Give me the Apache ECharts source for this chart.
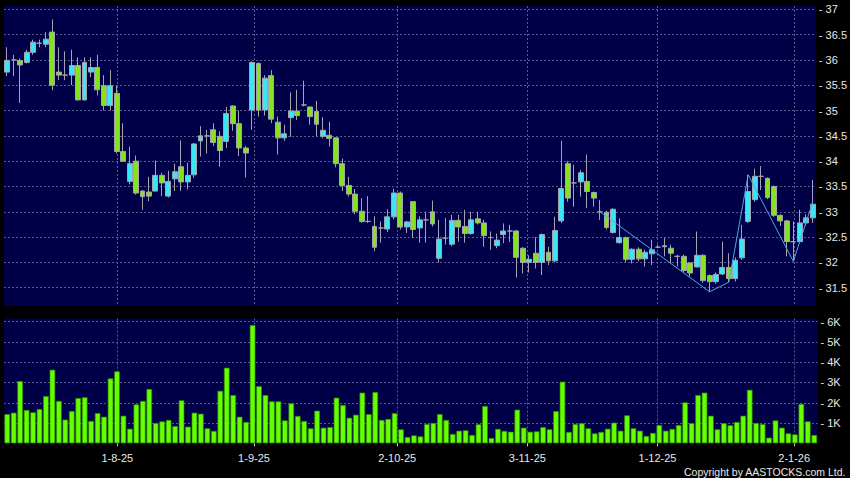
<!DOCTYPE html>
<html><head><meta charset="utf-8">
<script src="https://cdn.jsdelivr.net/npm/echarts@6/dist/echarts.min.js"></script>
<style>html,body{margin:0;padding:0;background:#000;}#c{width:850px;height:478px;}</style>
</head><body><div id="c"></div>
<script>
// Trading days (D-M-YY)
const DATES = [
'9-7-25','10-7-25','11-7-25','14-7-25','15-7-25','16-7-25','17-7-25','18-7-25','21-7-25','22-7-25','23-7-25','24-7-25','25-7-25','28-7-25','29-7-25','30-7-25','31-7-25',
'1-8-25','4-8-25','5-8-25','6-8-25','7-8-25','8-8-25','11-8-25','12-8-25','13-8-25','14-8-25','15-8-25','18-8-25','19-8-25','20-8-25','21-8-25','22-8-25','25-8-25','26-8-25','27-8-25','28-8-25','29-8-25',
'1-9-25','2-9-25','3-9-25','4-9-25','5-9-25','8-9-25','9-9-25','10-9-25','11-9-25','12-9-25','15-9-25','16-9-25','17-9-25','18-9-25','19-9-25','22-9-25','23-9-25','24-9-25','25-9-25','26-9-25','29-9-25','30-9-25',
'2-10-25','3-10-25','6-10-25','8-10-25','9-10-25','10-10-25','13-10-25','14-10-25','15-10-25','16-10-25','17-10-25','20-10-25','21-10-25','22-10-25','23-10-25','24-10-25','27-10-25','28-10-25','30-10-25','31-10-25',
'3-11-25','4-11-25','5-11-25','6-11-25','7-11-25','10-11-25','11-11-25','12-11-25','13-11-25','14-11-25','17-11-25','18-11-25','19-11-25','20-11-25','21-11-25','24-11-25','25-11-25','26-11-25','27-11-25','28-11-25',
'1-12-25','2-12-25','3-12-25','4-12-25','5-12-25','8-12-25','9-12-25','10-12-25','11-12-25','12-12-25','15-12-25','16-12-25','17-12-25','18-12-25','19-12-25','22-12-25','23-12-25','24-12-25','29-12-25','30-12-25','31-12-25',
'2-1-26','5-1-26','6-1-26','7-1-26','8-1-26'
];
const DATE_LABELS = ['1-8-25','1-9-25','2-10-25','3-11-25','1-12-25','2-1-26'];

const OPEN = [35.76,36.00,35.99,35.95,36.15,36.33,36.31,36.55,35.76,35.70,35.70,35.89,35.21,35.76,35.85,35.49,35.10,
35.34,34.19,33.60,34.00,33.41,33.39,33.41,33.72,33.31,33.65,33.89,33.59,33.73,34.40,34.50,34.62,34.49,34.39,35.09,34.74,34.26,
35.01,35.93,35.01,35.69,34.77,34.46,34.86,34.99,35.11,35.07,34.98,34.49,34.51,34.46,33.95,33.52,33.35,33.01,32.81,32.71,32.68,32.66,
32.90,33.37,32.70,33.20,32.68,32.84,33.00,32.08,32.48,32.36,32.83,32.71,32.57,32.86,32.78,32.49,32.33,32.55,32.62,32.62,
32.28,32.00,32.18,32.00,32.20,32.03,32.82,33.95,33.57,33.59,33.60,33.38,33.00,32.99,32.59,32.39,32.49,32.06,32.26,32.07,
32.17,32.30,32.31,32.28,32.12,32.12,31.99,31.91,32.14,31.74,31.62,31.77,31.90,31.68,32.09,32.81,33.24,33.70,33.66,33.50,32.93,
32.82,32.41,32.41,32.78,32.88];
const CLOSE = [35.99,36.00,35.90,36.15,36.35,36.33,36.41,35.50,35.70,35.70,35.89,35.21,35.95,35.85,35.41,35.10,35.49,
34.19,34.00,33.95,33.37,33.30,33.31,33.72,33.57,33.60,33.79,33.59,33.72,34.34,34.50,34.50,34.37,34.21,34.94,34.74,34.26,34.16,
35.95,35.01,35.64,34.83,34.46,34.54,34.99,34.90,35.11,34.88,34.73,34.61,34.45,33.95,33.52,33.35,33.01,32.81,32.81,32.30,32.68,32.90,
33.37,32.70,32.80,32.65,32.84,32.84,32.76,32.46,32.48,32.83,32.70,32.57,32.84,32.78,32.53,32.49,32.44,32.62,32.62,32.10,
32.00,32.06,32.00,32.55,32.03,32.63,33.46,33.27,33.57,33.77,33.40,33.27,33.00,32.69,33.05,32.49,32.06,32.26,32.07,32.20,
32.25,32.30,32.33,32.18,32.12,31.84,31.79,32.14,31.64,31.62,31.76,31.90,31.68,32.04,32.46,33.40,33.70,33.70,33.28,32.93,32.82,
32.41,32.41,32.78,32.88,33.15];
const LOW = [35.68,35.68,35.15,35.93,36.10,36.25,36.25,35.40,35.60,35.60,35.50,35.20,35.20,35.66,35.30,35.00,35.00,
34.15,33.98,33.54,33.34,33.04,33.21,33.40,33.31,33.28,33.41,33.41,33.44,33.67,34.09,34.15,34.30,33.89,34.26,34.60,34.10,33.68,
34.62,34.88,34.90,34.75,34.13,34.40,34.48,34.81,35.08,34.72,34.49,34.45,34.29,33.88,33.41,33.30,32.95,32.78,32.78,32.22,32.39,32.60,
32.85,32.65,32.58,32.48,32.39,32.39,32.71,32.00,32.35,32.32,32.41,32.39,32.55,32.75,32.31,32.25,32.28,32.38,32.40,31.70,
31.78,31.80,31.88,31.75,31.95,32.00,32.78,33.20,33.10,33.30,33.07,33.10,32.84,32.65,32.57,32.37,32.00,31.98,32.02,31.92,
31.95,32.28,32.12,31.99,31.92,31.80,31.72,31.90,31.60,31.42,31.58,31.75,31.61,31.62,32.05,32.78,33.20,33.43,33.25,32.90,32.72,
32.12,32.02,32.38,32.72,32.78];
const HIGH = [36.25,36.10,36.03,36.20,36.40,36.40,36.55,36.80,36.25,36.17,36.20,36.05,36.05,36.05,36.10,35.70,35.80,
35.49,34.75,34.29,34.11,33.42,33.69,34.01,33.77,33.81,33.95,34.41,33.97,34.36,34.69,34.62,34.75,34.59,35.07,35.10,35.00,34.30,
35.97,35.95,35.70,35.80,34.88,34.72,35.36,35.41,35.59,35.08,35.19,34.87,34.78,34.47,34.05,33.69,33.45,33.27,33.31,32.91,32.81,33.05,
33.45,33.40,32.82,33.21,32.91,33.00,33.22,32.84,32.88,32.94,32.94,33.04,33.00,33.00,32.84,32.61,32.57,32.77,32.74,32.64,
32.30,32.14,32.50,32.57,32.31,32.90,34.40,34.00,33.93,33.82,34.13,33.40,33.23,33.02,33.07,32.87,32.51,32.28,32.30,32.25,
32.45,32.35,32.48,32.35,32.15,32.15,32.00,32.61,32.16,31.76,31.80,32.41,32.18,32.10,32.74,33.73,33.85,33.90,33.68,33.52,32.95,
32.84,32.81,33.04,32.95,33.63];
// Volume in thousands of shares
const VOLUME_K = [1.44,1.51,3.07,1.64,1.53,1.69,2.33,3.63,2.09,1.17,1.59,2.23,2.27,1.10,1.49,1.31,3.20,
3.55,1.36,0.72,1.92,2.09,2.68,1.00,1.08,1.15,0.85,2.12,0.82,1.51,1.46,0.74,0.61,2.59,3.73,2.38,1.31,1.05,
5.83,2.82,2.38,2.07,2.07,1.13,1.97,1.35,1.10,0.74,1.61,0.77,0.80,2.25,1.89,1.26,1.41,2.50,1.44,2.53,1.15,1.20,
1.49,0.69,0.31,0.39,0.34,0.95,1.00,1.44,1.15,0.46,0.62,0.64,0.41,0.94,1.84,0.26,0.71,0.61,0.57,1.66,
0.77,0.57,0.59,0.80,0.69,1.59,3.04,0.56,0.95,0.99,0.74,0.49,0.56,0.72,1.02,0.62,1.38,0.74,0.62,0.36,
0.51,0.90,0.62,0.71,0.90,2.02,0.99,2.38,2.50,1.36,0.69,0.99,0.89,1.05,1.36,2.64,1.00,0.95,0.28,1.13,0.77,
0.49,0.44,1.94,1.08,0.41];
// Zigzag pivots: [index, price]
const ZIGZAG_IDX = [92,109,112,115,122,125];
const ZIGZAG_VAL = [33.00,31.42,31.61,33.73,32.02,33.19];

const OHLC = OPEN.map((o,i)=>[o, CLOSE[i], LOW[i], HIGH[i]]);
const ZZ = DATES.map((d,i)=>{ const k = ZIGZAG_IDX.indexOf(i); return k>=0 ? ZIGZAG_VAL[k] : null; });

const FONT = "'Liberation Sans', Arial, sans-serif";
const NAVY = '#000048';
const GL = '#5a5a8c';
const CYAN = '#38e6f6', GREEN = '#84e41c', EDGE = '#a4a4b0';
const isLabel = (i, v) => DATE_LABELS.indexOf(v) >= 0;
const priceFmt = v => Math.abs(v*2 - Math.round(v*2)) < 1e-6 ? '- ' + (+v.toFixed(1)) : '';
const volFmt = v => (v > 0.5 && Math.abs(v - Math.round(v)) < 1e-6) ? '- ' + Math.round(v) + 'K' : '';
const hidden = {axisLine:{show:false}, axisTick:{show:false}, axisLabel:{show:false}, splitLine:{show:false}};

const chart = echarts.init(document.getElementById('c'), null, {renderer:'svg'});
chart.setOption({
  backgroundColor:'#000',
  animation:false,
  grid:[
    {left:4, width:813.5, top:6, height:300, show:true, backgroundColor:NAVY, borderWidth:0},
    {left:4, width:813.5, top:318.5, height:124.8, show:true, backgroundColor:NAVY, borderWidth:0},
    {left:6.7, width:813.5, top:6, height:300},
    {left:6.7, width:813.5, top:318.5, height:124.8}
  ],
  xAxis:[
    Object.assign({type:'category', gridIndex:0, data:DATES, boundaryGap:true}, hidden),
    Object.assign({type:'category', gridIndex:1, data:DATES, boundaryGap:true}, hidden),
    {type:'category', gridIndex:2, data:DATES, boundaryGap:false,
      axisLine:{show:false}, axisTick:{show:false}, axisLabel:{show:false},
      splitLine:{show:true, interval:isLabel, lineStyle:{color:GL, width:1, type:[2,2]}}},
    {type:'category', gridIndex:3, data:DATES, boundaryGap:false, offset:3,
      axisLine:{show:false},
      axisTick:{show:true, interval:isLabel, length:3, lineStyle:{color:'#d0d0d0'}},
      axisLabel:{show:true, interval:isLabel, color:'#e8e8e8', fontSize:11, fontFamily:FONT, margin:6},
      splitLine:{show:true, interval:isLabel, lineStyle:{color:GL, width:1, type:[2,2]}}}
  ],
  yAxis:[
    {type:'value', gridIndex:0, position:'right', min:31.1385, max:37.0652, splitNumber:12, minInterval:0.5, maxInterval:0.5,
      axisLine:{show:false}, axisTick:{show:false},
      axisLabel:{formatter:priceFmt, color:'#e8e8e8', fontSize:11, fontFamily:FONT, margin:3, showMinLabel:false, showMaxLabel:false},
      splitLine:{show:true, showMinLine:false, showMaxLine:false, lineStyle:{color:GL, width:1, type:[2,2]}}},
    {type:'value', gridIndex:1, position:'right', min:0, max:6.157, interval:1,
      axisLine:{show:false}, axisTick:{show:false},
      axisLabel:{formatter:volFmt, color:'#e8e8e8', fontSize:11, fontFamily:FONT, margin:3, showMinLabel:false, showMaxLabel:false},
      splitLine:{show:true, showMinLine:false, showMaxLine:false, lineStyle:{color:GL, width:1, type:[2,2]}}},
    {type:'value', gridIndex:2, show:false, min:0, max:1, splitLine:{show:false}},
    {type:'value', gridIndex:3, show:false, min:0, max:1, splitLine:{show:false}}
  ],
  series:[
    {type:'candlestick', xAxisIndex:0, yAxisIndex:0, data:OHLC, barWidth:5.4,
      itemStyle:{color:CYAN, color0:GREEN, borderColor:EDGE, borderColor0:EDGE, borderColorDoji:EDGE, borderWidth:1}},
    {type:'line', xAxisIndex:0, yAxisIndex:0, data:ZZ, connectNulls:true, symbol:'none', z:5,
      lineStyle:{color:'#4aa6e6', width:1}},
    {type:'bar', xAxisIndex:1, yAxisIndex:1, data:VOLUME_K, barWidth:5.6,
      itemStyle:{color:'#66ff00', borderColor:'#2e8c00', borderWidth:0.7}}
  ],
  graphic:[
    {type:'text', right:4, top:466, silent:true,
      style:{text:'Copyright by AASTOCKS.com Ltd.', fill:'#e8e8e8', font:"10.5px 'Liberation Sans', Arial, sans-serif"}}
  ]
});
</script></body></html>
